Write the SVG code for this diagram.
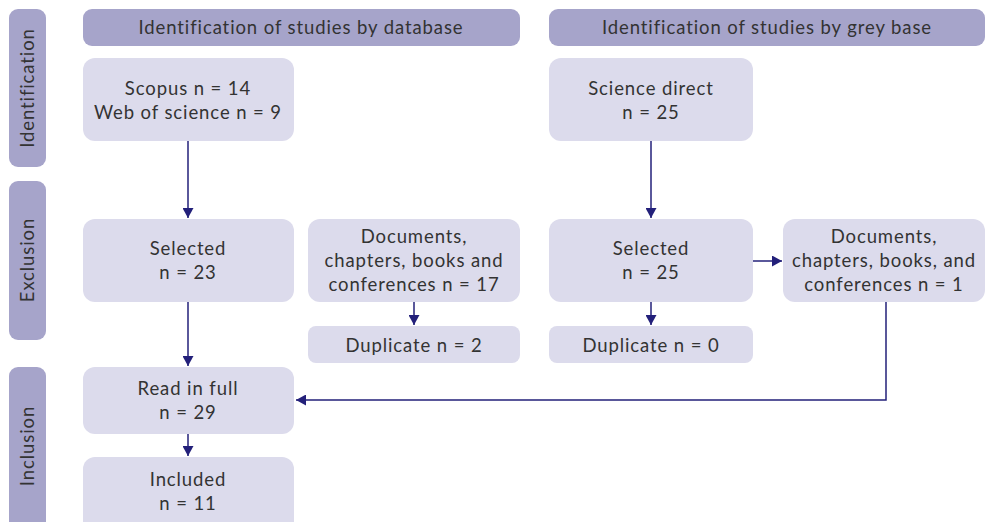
<svg xmlns="http://www.w3.org/2000/svg" width="986" height="522" viewBox="0 0 986 522">
<defs>
<style>
.bar{fill:#a6a4ca}
.box{fill:#dcdbec}
text{font-family:"Lato","Open Sans",sans-serif;font-size:18.5px;font-weight:400;letter-spacing:0.9px;fill:#333;text-anchor:middle}
.c{stroke:#23207a;stroke-width:1.5;fill:none}
</style>
<marker id="ah" viewBox="0 0 10 10" refX="10" refY="5" markerWidth="10" markerHeight="11" markerUnits="userSpaceOnUse" orient="auto" preserveAspectRatio="none">
<path d="M0,0 L10,5 L0,10 z" fill="#23207a"/>
</marker>
</defs>
<rect width="986" height="522" fill="#fff"/>
<g id="phase-identification"><rect class="bar" x="9" y="9" width="37" height="158" rx="9"/><text transform="translate(34,88) rotate(-90)">Identification</text></g>
<g id="phase-exclusion"><rect class="bar" x="9" y="181" width="37" height="159" rx="9"/><text transform="translate(34,260) rotate(-90)">Exclusion</text></g>
<g id="phase-inclusion"><rect class="bar" x="9" y="367" width="37" height="170" rx="9"/><text transform="translate(34,446) rotate(-90)">Inclusion</text></g>
<g id="header-database"><rect class="bar" x="83" y="9" width="437" height="37" rx="9"/><text x="301" y="34">Identification of studies by database</text></g>
<g id="header-grey"><rect class="bar" x="549" y="9" width="436" height="37" rx="9"/><text x="767" y="34">Identification of studies by grey base</text></g>
<g id="scopus"><rect class="box" x="83" y="58" width="211" height="83" rx="12"/><text x="188" y="95">Scopus n = 14</text><text x="188" y="119">Web of science n = 9</text></g>
<g id="science-direct"><rect class="box" x="549" y="58" width="204" height="83" rx="12"/><text x="651" y="95">Science direct</text><text x="651" y="119">n = 25</text></g>
<g id="selected-db"><rect class="box" x="83" y="219" width="211" height="83" rx="12"/><text x="188" y="255">Selected</text><text x="188" y="279">n = 23</text></g>
<g id="docs-db"><rect class="box" x="308" y="219" width="212" height="83" rx="12"/><text x="414" y="243">Documents,</text><text x="414" y="267">chapters, books and</text><text x="414" y="291">conferences n = 17</text></g>
<g id="selected-grey"><rect class="box" x="549" y="219" width="204" height="83" rx="12"/><text x="651" y="255">Selected</text><text x="651" y="279">n = 25</text></g>
<g id="docs-grey"><rect class="box" x="783" y="219" width="202" height="83" rx="12"/><text x="884" y="243">Documents,</text><text x="884" y="267">chapters, books, and</text><text x="884" y="291">conferences n = 1</text></g>
<g id="dup-db"><rect class="box" x="308" y="326" width="212" height="37" rx="8"/><text x="414" y="352">Duplicate n = 2</text></g>
<g id="dup-grey"><rect class="box" x="549" y="326" width="204" height="37" rx="8"/><text x="651" y="352">Duplicate n = 0</text></g>
<g id="read-full"><rect class="box" x="83" y="367" width="211" height="67" rx="12"/><text x="188" y="395">Read in full</text><text x="188" y="419">n = 29</text></g>
<g id="included"><rect class="box" x="83" y="457" width="211" height="80" rx="12"/><text x="188" y="486">Included</text><text x="188" y="510">n = 11</text></g>
<g id="connectors">
<path class="c" d="M188,141 V218" marker-end="url(#ah)"/>
<path class="c" d="M188,302 V366" marker-end="url(#ah)"/>
<path class="c" d="M188,434 V456" marker-end="url(#ah)"/>
<path class="c" d="M651,141 V218" marker-end="url(#ah)"/>
<path class="c" d="M414,302 V325" marker-end="url(#ah)"/>
<path class="c" d="M651,302 V325" marker-end="url(#ah)"/>
<path class="c" d="M753,261 H782" marker-end="url(#ah)"/>
<path class="c" d="M886,302 V400 H296" marker-end="url(#ah)"/>
</g>
</svg>
